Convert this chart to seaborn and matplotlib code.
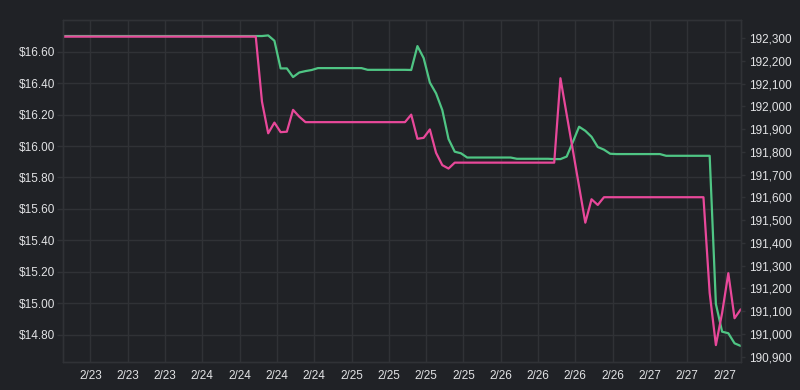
import pandas as pd
import matplotlib
matplotlib.use("Agg")
import matplotlib.pyplot as plt
import matplotlib.dates as mdates
import matplotlib.ticker as mticker
import seaborn as sns

# -----------------------------
# Data (hourly samples)
# -----------------------------
start = "2023-02-23 01:36"

# green line, left axis ($)
price = [
    16.70, 16.70, 16.70, 16.70, 16.70, 16.70, 16.70, 16.70, 16.70, 16.70,
    16.70, 16.70, 16.70, 16.70, 16.70, 16.70, 16.70, 16.70, 16.70, 16.70,
    16.70, 16.70, 16.70, 16.70, 16.70, 16.70, 16.70, 16.70, 16.70, 16.70,
    16.70, 16.70, 16.70, 16.704, 16.670, 16.494, 16.494, 16.439, 16.468, 16.477,
    16.484, 16.496, 16.496, 16.496, 16.496, 16.496, 16.496, 16.496, 16.496, 16.485,
    16.485, 16.485, 16.485, 16.485, 16.485, 16.485, 16.484, 16.636, 16.560, 16.404,
    16.335, 16.229, 16.045, 15.964, 15.954, 15.927, 15.927, 15.927, 15.927, 15.927,
    15.927, 15.927, 15.927, 15.919, 15.919, 15.919, 15.919, 15.919, 15.919, 15.917,
    15.917, 15.933, 16.026, 16.123, 16.097, 16.059, 15.994, 15.977, 15.951, 15.949,
    15.949, 15.949, 15.949, 15.949, 15.949, 15.949, 15.949, 15.938, 15.938, 15.938,
    15.938, 15.938, 15.938, 15.938, 15.938, 14.995, 14.819, 14.809, 14.745, 14.728,
]

# pink line, right axis
supply = [
    192307, 192307, 192307, 192307, 192307, 192307, 192307, 192307, 192307, 192307,
    192307, 192307, 192307, 192307, 192307, 192307, 192307, 192307, 192307, 192307,
    192307, 192307, 192307, 192307, 192307, 192307, 192307, 192307, 192307, 192307,
    192307, 192307, 192021, 191882, 191929, 191887, 191889, 191985, 191955, 191931,
    191931, 191931, 191931, 191931, 191931, 191931, 191931, 191931, 191931, 191931,
    191931, 191931, 191931, 191931, 191931, 191931, 191964, 191858, 191862, 191899,
    191796, 191742, 191727, 191753, 191753, 191753, 191753, 191753, 191753, 191753,
    191753, 191753, 191753, 191753, 191753, 191753, 191753, 191753, 191753, 191753,
    192124, 191965, 191807, 191648, 191489, 191592, 191567, 191601, 191601, 191601,
    191601, 191601, 191601, 191601, 191601, 191601, 191601, 191601, 191601, 191601,
    191601, 191601, 191601, 191601, 191180, 190951, 191092, 191267, 191069, 191108,
]

left_ticks = [14.80, 15.00, 15.20, 15.40, 15.60, 15.80, 16.00, 16.20, 16.40, 16.60]
right_ticks = [190900, 191000, 191100, 191200, 191300, 191400, 191500,
               191600, 191700, 191800, 191900, 192000, 192100, 192200, 192300]

df = pd.DataFrame({
    "time": pd.date_range(start, periods=len(price), freq="h"),
    "price": price,
    "supply": supply,
})

# -----------------------------
# Styling
# -----------------------------
bg = "#202226"
grid = "#303236"
txt = "#e2e3e5"
green = "#4fc584"
pink = "#e8489a"

sns.set_style("dark", {"axes.facecolor": bg, "figure.facecolor": bg,
                       "axes.edgecolor": grid, "grid.color": grid})
plt.rcParams["font.family"] = ["Liberation Sans", "DejaVu Sans"]

fig = plt.figure(figsize=(8, 3.9), dpi=100)
ax = fig.add_axes([0.07875, 0.0726, 0.8472, 0.8761])
ax2 = ax.twinx()

sns.lineplot(data=df, x="time", y="price", ax=ax, color=green, linewidth=1.6)
sns.lineplot(data=df, x="time", y="supply", ax=ax2, color=pink, linewidth=1.6)

ax.set_xlim(df["time"].iloc[0], df["time"].iloc[-1])
ax.set_ylim(14.628, 16.802)
ax2.set_ylim(190878, 192380)

ax.set_yticks(left_ticks)
ax.yaxis.set_major_formatter(mticker.FuncFormatter(lambda v, p: f"${v:.2f}"))
ax2.set_yticks(right_ticks)
ax2.yaxis.set_major_formatter(mticker.FuncFormatter(lambda v, p: f"{int(round(v)):,}"))

ax.xaxis.set_major_locator(mdates.HourLocator(byhour=[0, 6, 12, 18]))
ax.xaxis.set_major_formatter(mdates.DateFormatter("%-m/%d"))

ax.grid(True, color=grid, linewidth=1)
ax2.grid(False)
for a in (ax, ax2):
    a.set_xlabel("")
    a.set_ylabel("")
    for s in a.spines.values():
        s.set_color(grid)
        s.set_linewidth(1)

ax.tick_params(axis="y", colors=grid, labelcolor=txt, labelsize=8.5, length=4, width=1, pad=1.5)
ax.tick_params(axis="x", colors=grid, labelcolor=txt, labelsize=8.5, length=3, width=1, pad=3)
ax2.tick_params(axis="y", colors=grid, labelcolor=txt, labelsize=8.5, length=3, width=1, pad=3)

plt.savefig("out.png", dpi=100, facecolor=bg)
